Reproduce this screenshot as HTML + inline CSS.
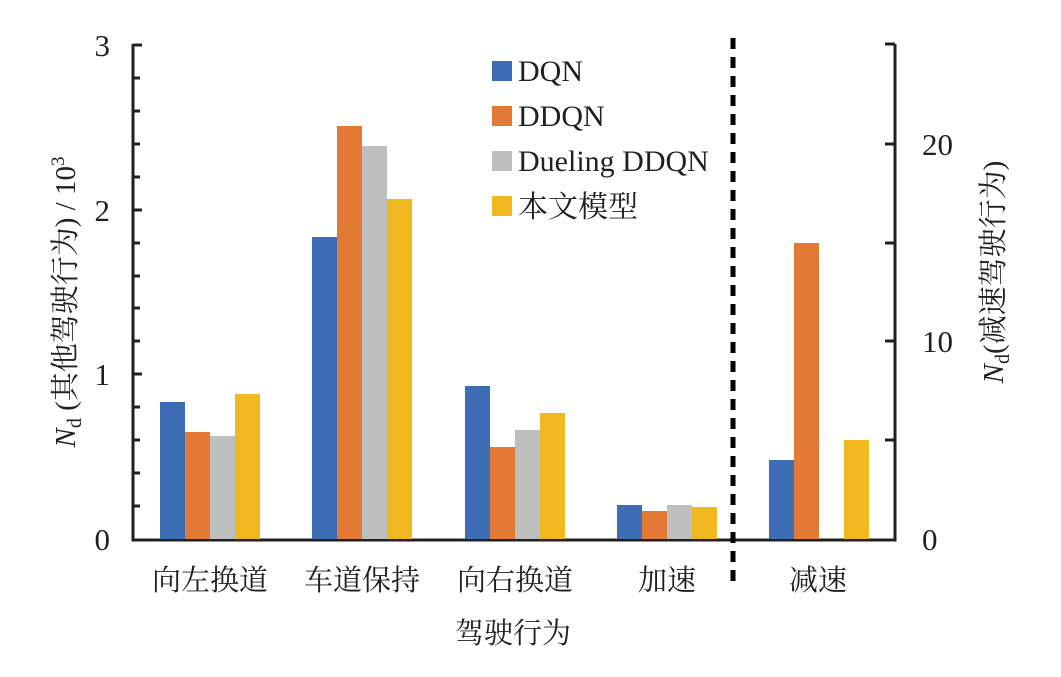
<!DOCTYPE html>
<html><head><meta charset="utf-8"><style>html,body{margin:0;padding:0;background:#fff}</style></head><body>
<svg width="1061" height="672" xmlns="http://www.w3.org/2000/svg" font-family="'Liberation Serif','Noto Serif CJK SC',serif" fill="#231f20">
<g stroke="#231f20" stroke-width="3" fill="none">
<path d="M133,44 V540 H895 V44 M895,44 H885"/>
<path d="M133,45 H142 M133,78 H140 M133,111 H140 M133,144 H140 M133,177 H140 M133,210 H142 M133,243 H140 M133,276 H140 M133,308 H140 M133,341 H140 M133,374 H142 M133,407 H140 M133,440 H140 M133,473 H140 M133,506 H140"/>
<path d="M895,144 H885 M895,243 H885 M895,341 H885 M895,440 H885"/>
</g>
<line x1="733" y1="38" x2="733" y2="586" stroke="#000" stroke-width="5" stroke-dasharray="11,8"/>
<g>
<rect x="160" y="402" width="25" height="137" fill="#3d6db4"/>
<rect x="185" y="432" width="25" height="107" fill="#e27a35"/>
<rect x="210" y="436" width="25" height="103" fill="#bdbebe"/>
<rect x="235" y="394" width="25" height="145" fill="#f1b91f"/>
<rect x="312" y="237" width="25" height="302" fill="#3d6db4"/>
<rect x="337" y="126" width="25" height="413" fill="#e27a35"/>
<rect x="362" y="146" width="25" height="393" fill="#bdbebe"/>
<rect x="387" y="199" width="25" height="340" fill="#f1b91f"/>
<rect x="465" y="386" width="25" height="153" fill="#3d6db4"/>
<rect x="490" y="447" width="25" height="92" fill="#e27a35"/>
<rect x="515" y="430" width="25" height="109" fill="#bdbebe"/>
<rect x="540" y="413" width="25" height="126" fill="#f1b91f"/>
<rect x="617" y="505" width="25" height="34" fill="#3d6db4"/>
<rect x="642" y="511" width="25" height="28" fill="#e27a35"/>
<rect x="667" y="505" width="25" height="34" fill="#bdbebe"/>
<rect x="692" y="507" width="25" height="32" fill="#f1b91f"/>
<rect x="769" y="460" width="25" height="79" fill="#3d6db4"/>
<rect x="794" y="243" width="25" height="296" fill="#e27a35"/>
<rect x="844" y="440" width="25" height="99" fill="#f1b91f"/>
</g>
<g font-size="31" text-anchor="end">
<text x="110" y="56">3</text><text x="110" y="221">2</text><text x="110" y="385">1</text><text x="110" y="550">0</text>
</g>
<g font-size="31" text-anchor="start">
<text x="922" y="155">20</text><text x="922" y="352">10</text><text x="922" y="550">0</text>
</g>
<g font-size="29" text-anchor="middle">
<text x="210" y="590">向左换道</text><text x="362" y="590">车道保持</text><text x="515" y="590">向右换道</text><text x="667" y="590">加速</text><text x="818" y="590">减速</text>
<text x="513" y="643">驾驶行为</text>
</g>
<g font-size="30">
<rect x="492" y="61" width="20" height="20" fill="#3d6db4"/><text x="518" y="81">DQN</text>
<rect x="492" y="106" width="20" height="20" fill="#e27a35"/><text x="518" y="126">DDQN</text>
<rect x="492" y="151" width="20" height="20" fill="#bdbebe"/><text x="518" y="171">Dueling DDQN</text>
<rect x="492" y="196" width="20" height="20" fill="#f1b91f"/><text x="518" y="217">本文模型</text>
</g>
<text transform="translate(75,302) rotate(-90)" text-anchor="middle" font-size="29"><tspan font-style="italic">N</tspan><tspan font-size="20" dy="6">d</tspan><tspan dy="-6"> (其他驾驶行为) / 10</tspan><tspan font-size="19" dy="-11">3</tspan></text>
<text transform="translate(1003,272) rotate(-90)" text-anchor="middle" font-size="29"><tspan font-style="italic">N</tspan><tspan font-size="20" dy="6">d</tspan><tspan dy="-6">(减速驾驶行为)</tspan></text>
</svg>
</body></html>
